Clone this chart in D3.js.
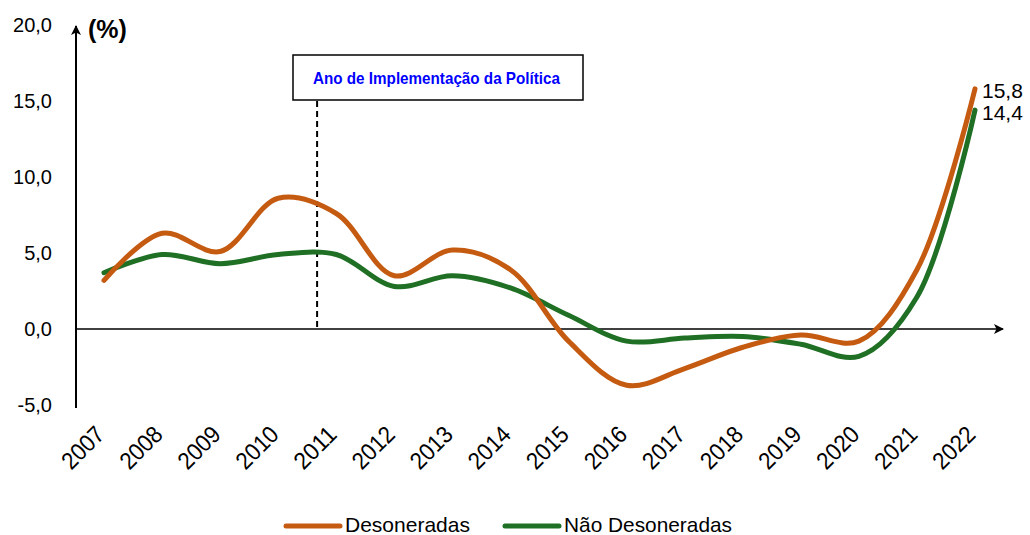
<html>
<head>
<meta charset="utf-8">
<script src="https://d3js.org/d3.v7.min.js"></script>
<style>
  body { margin: 0; background: #fff; }
  text { font-family: "Liberation Sans", Arial, sans-serif; }
</style>
</head>
<body>
<div id="chart"></div>
<script>
// data
var years = [2007, 2008, 2009, 2010, 2011, 2012, 2013, 2014, 2015, 2016, 2017, 2018, 2019, 2020, 2021, 2022]
var desoneradas = [3.2, 6.3, 5.1, 8.6, 7.6, 3.5, 5.2, 3.9, -0.8, -3.7, -2.6, -1.2, -0.4, -0.8, 3.9, 15.8]
var naoDesoneradas = [3.7, 4.9, 4.3, 4.9, 4.9, 2.8, 3.5, 2.7, 0.9, -0.8, -0.6, -0.5, -1.0, -1.8, 2.1, 14.4]
var yTicks = [-5, 0, 5, 10, 15, 20]
var policyYear = 2010.67   // the dashed marker sits between 2010 and 2011
var policyLabel = "Ano de Implementação  da Política"
var seriesNames = ["Desoneradas", "Não Desoneradas"]
var colors = ["#C55A11", "#1F6F25"]

var width = 1030, height = 535

var svg = d3.select('#chart').append('svg')
  .attr('width', width)
  .attr('height', height)

var x = d3.scaleLinear().domain([2007, 2022]).range([104, 975])
var y = d3.scaleLinear().domain([-5, 20]).range([405, 25])

// comma decimals, plain hyphen for negatives
var fmt = function(v) { return d3.format('.1f')(v).replace('.', ',').replace('\u2212', '-') }

var defs = svg.append('defs')
defs.append('marker')
  .attr('id', 'arrow')
  .attr('viewBox', '0 0 10 10')
  .attr('refX', 9).attr('refY', 5)
  .attr('markerWidth', 10).attr('markerHeight', 10)
  .attr('markerUnits', 'userSpaceOnUse')
  .attr('orient', 'auto')
  .append('path').attr('d', 'M0,0 L10,5 L0,10 L2.5,5 Z').attr('fill', '#000')

// y tick labels (no tick marks)
svg.append('g').selectAll('text').data(yTicks).enter().append('text')
  .attr('x', 52)
  .attr('y', function(d) { return y(d) + 7 })
  .attr('text-anchor', 'end')
  .style('font-size', '20px')
  .text(fmt)

// axes
svg.append('line')
  .attr('x1', 76).attr('x2', 76)
  .attr('y1', y(-5) + 3).attr('y2', y(20) + 1)
  .attr('stroke', '#000').attr('stroke-width', 2)
  .attr('marker-end', 'url(#arrow)')

svg.append('line')
  .attr('x1', 76).attr('x2', 1003)
  .attr('y1', y(0)).attr('y2', y(0))
  .attr('stroke', '#000').attr('stroke-width', 1.5)
  .attr('marker-end', 'url(#arrow)')

svg.append('text')
  .attr('x', 88).attr('y', 38)
  .style('font-size', '25px').style('font-weight', 'bold')
  .text('(%)')

// x labels rotated
svg.append('g').selectAll('text').data(years).enter().append('text')
  .attr('transform', function(d) { return 'translate(' + (x(d) + 2) + ',436) rotate(-45)' })
  .attr('text-anchor', 'end')
  .style('font-size', '24px')
  .attr('textLength', 49)
  .attr('lengthAdjust', 'spacingAndGlyphs')
  .text(function(d) { return d })

// policy marker
svg.append('line')
  .attr('x1', x(policyYear)).attr('x2', x(policyYear))
  .attr('y1', 101).attr('y2', y(0))
  .attr('stroke', '#000').attr('stroke-width', 2)
  .attr('stroke-dasharray', '6,4')

svg.append('rect')
  .attr('x', 293).attr('y', 55)
  .attr('width', 290).attr('height', 45)
  .attr('fill', '#fff').attr('stroke', '#000').attr('stroke-width', 1.5)

svg.append('text')
  .attr('x', 313).attr('y', 84)
  .style('font-size', '17px').style('font-weight', 'bold')
  .attr('textLength', 247)
  .attr('lengthAdjust', 'spacingAndGlyphs')
  .attr('fill', '#0000FF')
  .text(policyLabel)

// lines
var line = d3.line()
  .x(function(d, i) { return x(years[i]) })
  .y(function(d) { return y(d) })
  .curve(d3.curveCatmullRom.alpha(0.5))

var allSeries = [desoneradas, naoDesoneradas]
svg.append('g').selectAll('path').data(allSeries.slice().reverse()).enter().append('path')
  .attr('d', line)
  .attr('fill', 'none')
  .attr('stroke', function(d, i) { return colors[1 - i] })
  .attr('stroke-width', 5)
  .attr('stroke-linecap', 'round')

// end labels
svg.append('g').selectAll('text').data(allSeries).enter().append('text')
  .attr('x', x(2022) + 7)
  .attr('y', function(d, i) { return y(d[d.length - 1]) + (i == 0 ? 9 : 10) })
  .style('font-size', '21px')
  .text(function(d) { return fmt(d[d.length - 1]) })

// legend
var legendX = [286, 505]
var legendW = [125, 168]
var lg = svg.append('g').selectAll('g').data(seriesNames).enter().append('g')
  .attr('transform', function(d, i) { return 'translate(' + legendX[i] + ',526)' })
lg.append('line')
  .attr('x1', 0).attr('x2', 54)
  .attr('stroke', function(d, i) { return colors[i] })
  .attr('stroke-width', 5).attr('stroke-linecap', 'round')
lg.append('text')
  .attr('x', 59).attr('y', 6)
  .style('font-size', '21px')
  .attr('textLength', function(d, i) { return legendW[i] })
  .attr('lengthAdjust', 'spacingAndGlyphs')
  .text(function(d) { return d })
</script>
</body>
</html>
